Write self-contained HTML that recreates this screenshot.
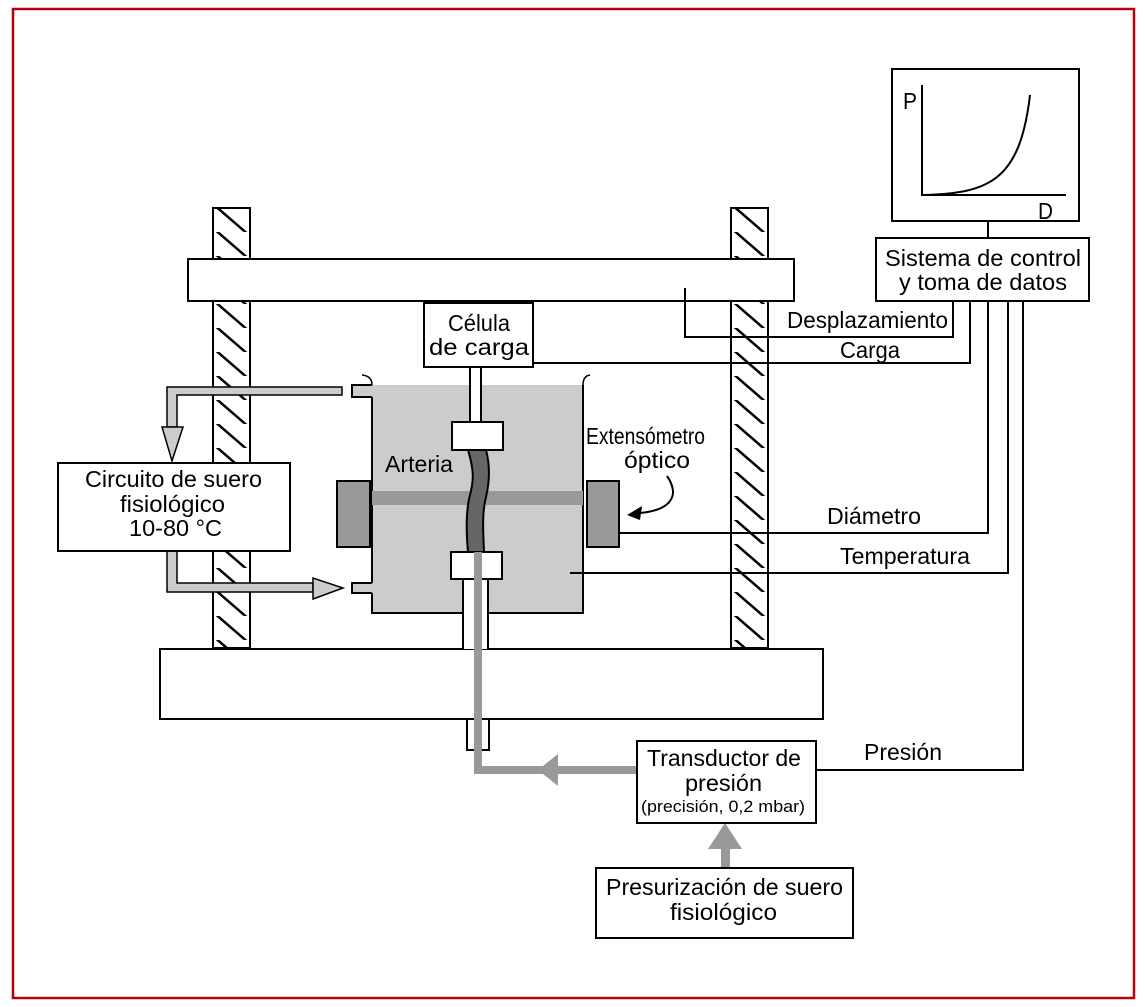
<!DOCTYPE html>
<html><head><meta charset="utf-8"><style>
html,body{margin:0;padding:0;background:#fff}
svg{display:block}
text{font-family:"Liberation Sans Narrow","Liberation Sans",sans-serif;font-size:23px;fill:#000}
</style></head><body>
<svg width="1145" height="1007" viewBox="0 0 1145 1007" xmlns="http://www.w3.org/2000/svg">
<defs>
<pattern id="hat" x="213" y="208" width="37" height="24" patternUnits="userSpaceOnUse">
<rect width="37" height="24" fill="#fff"/>
<line x1="0" y1="-4" x2="37" y2="28" stroke="#000" stroke-width="2.5"/>
<line x1="-37" y1="-4" x2="0" y2="28" stroke="#000" stroke-width="2.5"/>
<line x1="37" y1="-4" x2="74" y2="28" stroke="#000" stroke-width="2.5"/>
</pattern>
<pattern id="hat2" x="731" y="208" width="37" height="24" patternUnits="userSpaceOnUse">
<rect width="37" height="24" fill="#fff"/>
<line x1="0" y1="-4" x2="37" y2="28" stroke="#000" stroke-width="2.5"/>
<line x1="-37" y1="-4" x2="0" y2="28" stroke="#000" stroke-width="2.5"/>
<line x1="37" y1="-4" x2="74" y2="28" stroke="#000" stroke-width="2.5"/>
</pattern>
</defs>
<rect x="13" y="9" width="1121" height="989" fill="none" stroke="#b5000f" stroke-width="2.5"/>

<rect x="213" y="208" width="37" height="440" fill="url(#hat)" stroke="#000" stroke-width="2"/>
<rect x="731" y="208" width="37" height="440" fill="url(#hat2)" stroke="#000" stroke-width="2"/>

<rect x="188" y="259" width="606" height="42" fill="#fff" stroke="#000" stroke-width="2"/>
<rect x="160" y="649" width="663" height="70" fill="#fff" stroke="#000" stroke-width="2"/>
<rect x="467" y="719" width="22" height="31" fill="#fff" stroke="#000" stroke-width="2"/>

<rect x="372" y="385" width="211" height="228" fill="#cccccc"/>
<path d="M372 397 V583 M372 593 V613 H583 V385" fill="none" stroke="#000" stroke-width="2"/>
<path d="M362 375 Q372 376 372 385" fill="none" stroke="#000" stroke-width="1.5"/>
<path d="M583 385 Q583 376 590 375" fill="none" stroke="#000" stroke-width="1.5"/>
<path d="M372 385 H352 V397 H372" fill="#cccccc" stroke="#000" stroke-width="2"/>
<path d="M372 583 H352 V593 H372" fill="#cccccc" stroke="#000" stroke-width="2"/>
<rect x="372" y="491" width="211" height="14" fill="#999"/>

<rect x="337" y="481" width="33" height="66" fill="#999" stroke="#000" stroke-width="2"/>
<rect x="587" y="481" width="32" height="66" fill="#999" stroke="#000" stroke-width="2"/>

<rect x="470" y="367" width="11" height="55" fill="#fff" stroke="#000" stroke-width="2"/>
<rect x="463" y="579" width="25" height="70" fill="#fff"/>
<path d="M463 579 V649 M488 579 V649" stroke="#000" stroke-width="2"/>
<path d="M468 450 C474 470 474 480 470 495 C466 510 466 530 468 552 L484 552 C483 530 482 512 486 497 C490 480 490 465 486 450 Z" fill="#666" stroke="#000" stroke-width="2"/>
<rect x="452" y="422" width="51" height="28" fill="#fff" stroke="#000" stroke-width="2"/>
<rect x="451" y="552" width="51" height="27" fill="#fff" stroke="#000" stroke-width="2"/>
<path d="M478 552 V770 H558" fill="none" stroke="#999" stroke-width="8"/>
<path d="M558 770 H637" stroke="#999" stroke-width="8"/>
<polygon points="538,770 558,754 558,786" fill="#999"/>
<rect x="721" y="848" width="9" height="20" fill="#999"/>
<polygon points="725,823 708,849 742,849" fill="#999"/>

<path d="M342 387 H167 V427 H177 V395 H342 Z" fill="#ccc" stroke="#000" stroke-width="1.5"/>
<polygon points="162,427 183,427 172,461" fill="#ccc" stroke="#000" stroke-width="1.5"/>
<path d="M167 551 V592 H313 V583 H177 V551 Z" fill="#ccc" stroke="#000" stroke-width="1.5"/>
<polygon points="313,578 313,599 343,588" fill="#ccc" stroke="#000" stroke-width="1.5"/>

<rect x="58" y="463" width="232" height="88" fill="#fff" stroke="#000" stroke-width="2"/>
<rect x="424" y="303" width="109" height="64" fill="#fff" stroke="#000" stroke-width="2"/>
<rect x="892" y="69" width="187" height="152" fill="#fff" stroke="#000" stroke-width="2"/>
<rect x="876" y="238" width="213" height="63" fill="#fff" stroke="#000" stroke-width="2"/>
<rect x="637" y="741" width="179" height="82" fill="#fff" stroke="#000" stroke-width="2"/>
<rect x="596" y="868" width="257" height="70" fill="#fff" stroke="#000" stroke-width="2"/>

<path d="M922 85 V195 H1066" fill="none" stroke="#000" stroke-width="2"/>
<path d="M925 195 C990 193 1020 180 1030 95" fill="none" stroke="#000" stroke-width="2"/>
<line x1="988" y1="221" x2="988" y2="238" stroke="#000" stroke-width="2"/>

<g fill="none" stroke="#000" stroke-width="2">
<path d="M685 288 V337 H953 V301"/>
<path d="M533 363 H970 V301"/>
<path d="M619 533 H988 V301"/>
<path d="M570 573 H1008 V301"/>
<path d="M816 770 H1023 V301"/>
<path d="M667 476 C680 495 672 510 640 513"/>
</g>
<polygon points="627,515 642,506 640,520" fill="#000"/>

<g>
<text x="903" y="109" textLength="14" lengthAdjust="spacingAndGlyphs">P</text>
<text x="1038" y="219" textLength="15" lengthAdjust="spacingAndGlyphs">D</text>
<text x="983" y="266" text-anchor="middle" textLength="196" lengthAdjust="spacingAndGlyphs">Sistema de control</text>
<text x="983" y="290" text-anchor="middle" textLength="168" lengthAdjust="spacingAndGlyphs">y toma de datos</text>
<text x="479" y="331" text-anchor="middle" textLength="62" lengthAdjust="spacingAndGlyphs">Célula</text>
<text x="479" y="355" text-anchor="middle" textLength="100" lengthAdjust="spacingAndGlyphs">de carga</text>
<text x="787" y="328" textLength="161" lengthAdjust="spacingAndGlyphs">Desplazamiento</text>
<text x="840" y="358" textLength="60" lengthAdjust="spacingAndGlyphs">Carga</text>
<text x="385" y="472" textLength="68" lengthAdjust="spacingAndGlyphs">Arteria</text>
<text x="586" y="444" textLength="119" lengthAdjust="spacingAndGlyphs">Extensómetro</text>
<text x="624" y="468" textLength="66" lengthAdjust="spacingAndGlyphs">óptico</text>
<text x="827" y="524" textLength="94" lengthAdjust="spacingAndGlyphs">Diámetro</text>
<text x="840" y="564" textLength="130" lengthAdjust="spacingAndGlyphs">Temperatura</text>
<text x="864" y="760" textLength="78" lengthAdjust="spacingAndGlyphs">Presión</text>
<text x="85" y="487" textLength="177" lengthAdjust="spacingAndGlyphs">Circuito de suero</text>
<text x="120" y="512" textLength="105" lengthAdjust="spacingAndGlyphs">fisiológico</text>
<text x="129" y="536" textLength="93" lengthAdjust="spacingAndGlyphs">10-80 °C</text>
<text x="647" y="766" textLength="154" lengthAdjust="spacingAndGlyphs">Transductor de</text>
<text x="685" y="791" textLength="77" lengthAdjust="spacingAndGlyphs">presión</text>
<text x="641" y="812" style="font-size:17px" textLength="164" lengthAdjust="spacingAndGlyphs">(precisión, 0,2 mbar)</text>
<text x="606" y="895" textLength="237" lengthAdjust="spacingAndGlyphs">Presurización de suero</text>
<text x="670" y="920" textLength="107" lengthAdjust="spacingAndGlyphs">fisiológico</text>
</g>
</svg>
</body></html>
